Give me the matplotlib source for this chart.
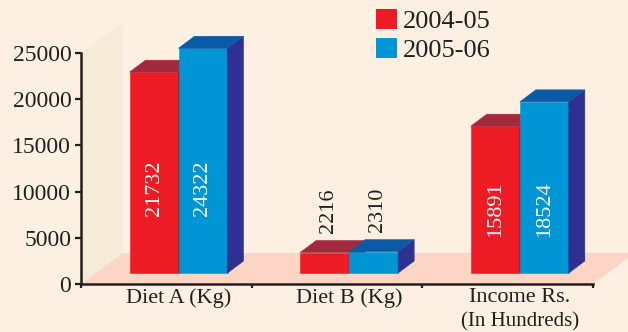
import matplotlib.pyplot as plt
import numpy as np
from matplotlib.patches import Polygon, Patch

plt.rcParams['font.family'] = ['Liberation Serif', 'DejaVu Serif']

categories = ['Diet A (Kg)', 'Diet B (Kg)', 'Income Rs.']
series = ['2004-05', '2005-06']
v0405 = [21732, 2216, 15891]
v0506 = [24322, 2310, 18524]
yticks = [0, 5000, 10000, 15000, 20000, 25000]

bg = '#FDF0E3'
wall_c = '#F6EAD9'
floor_c = '#FCD5C5'
ink = '#231F20'
red = ('#ED1C24', '#A3293F', '#8E1B2E')    # front, top, side
blue = ('#0096D6', '#0B5AA6', '#2E3192')

W, H = 628, 332
fig = plt.figure(figsize=(W / 100, H / 100), dpi=100)
fig.patch.set_facecolor(bg)
ax = fig.add_axes([81 / W, 48 / H, 512 / W, 231 / H])
ax.set_xlim(0, 3)
ax.set_ylim(0, 25000)
ax.patch.set_visible(False)

# one screen pixel in data units
px = 3 / 512
py = 25000 / 231

# back wall and floor of the box
wx, wy = 42 * px, 31 * py
ax.add_patch(Polygon([(0, 0), (0, 25000), (wx, 25000 + 30 * py), (wx, wy)],
                     closed=True, fc=wall_c, ec='none', clip_on=False, zorder=0))
ax.add_patch(Polygon([(0, 0), (wx, wy), (3 + wx, wy), (3, 0)],
                     closed=True, fc=floor_c, ec='none', clip_on=False, zorder=0))

# bar geometry
bw = 49 * px
dx, dy = 16 * px, 12 * py
base = 11 * py
x = np.arange(len(categories))
x_red = x + 48.5 * px
x_blue = x_red + bw


def faces(xs, vals, cols, z):
    bars = ax.bar(xs, vals, width=bw, bottom=base, align='edge', color=cols[0],
                  lw=0.4, ec=cols[0], zorder=z)
    for b in bars:
        b.set_clip_on(False)
    for x0, v in zip(xs, vals):
        y1 = base + v
        ax.add_patch(Polygon([(x0 + bw, base), (x0 + bw + dx, base + dy),
                              (x0 + bw + dx, y1 + dy), (x0 + bw, y1)],
                             fc=cols[2], ec=cols[2], lw=0.4, zorder=z,
                             clip_on=False))
        ax.add_patch(Polygon([(x0, y1), (x0 + dx, y1 + dy),
                              (x0 + bw + dx, y1 + dy), (x0 + bw, y1)],
                             fc=cols[1], ec=cols[1], lw=0.4, zorder=z,
                             clip_on=False))


faces(x_red, v0405, red, 3)
faces(x_blue, v0506, blue, 4)

# value labels
for i in range(len(categories)):
    for xs, v in ((x_red[i], v0405[i]), (x_blue[i], v0506[i])):
        if v > 5000:
            ymid = base + 0.4 * (v0405[i] + v0506[i]) / 2
            ax.text(xs + bw / 2, ymid, str(v), rotation=90, ha='center',
                    va='center', color='white', fontsize=16, zorder=6)
        else:
            ax.text(xs + bw / 2 + 4 * px, base + v + dy + 8 * py, str(v),
                    rotation=90, ha='center', va='bottom', color=ink,
                    fontsize=16, zorder=6)

# axes styling
for s in ('top', 'right'):
    ax.spines[s].set_visible(False)
for s in ('left', 'bottom'):
    ax.spines[s].set_linewidth(1.8)
    ax.spines[s].set_color(ink)
ax.set_yticks(yticks)
ax.tick_params(axis='y', length=4, width=1.6, color=ink, labelsize=17,
               labelcolor=ink, pad=3)
ax.set_xticks(x_red + bw)
ax.set_xticklabels(categories)
ax.set_xticks([0, 1, 2, 3], minor=True)
ax.tick_params(axis='x', which='major', length=0, labelsize=16,
               labelcolor=ink, pad=3)
ax.tick_params(axis='x', which='minor', length=3, width=1.6, color=ink)
fig.text((x_red[2] + bw) * 512 / 3 / W + 81 / W, 1 - 322 / H, '(In Hundreds)',
         ha='center', va='center', fontsize=15, color=ink)

handles = [Patch(fc=red[0], ec='none'), Patch(fc=blue[0], ec='none')]
fig.legend(handles, series, loc='upper left',
           bbox_to_anchor=(376 / W, 1 - 9 / H), frameon=False, fontsize=19,
           handlelength=0.8, handleheight=0.78, handletextpad=0.2,
           labelspacing=0.2, borderpad=0, borderaxespad=0, labelcolor=ink)

fig.savefig('out.png', dpi=100, facecolor=bg)
